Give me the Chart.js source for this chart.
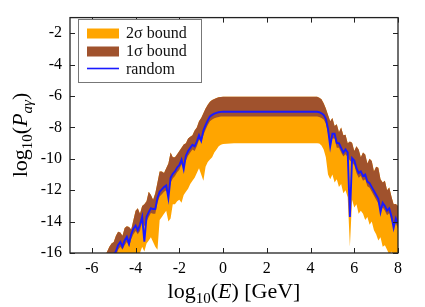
<!DOCTYPE html>
<html><head><meta charset="utf-8">
<script src="https://cdn.jsdelivr.net/npm/chart.js@4.4.1/dist/chart.umd.min.js"></script>
<style>html,body{margin:0;padding:0;background:#fff;}canvas{display:block;}</style>
</head><body>
<canvas id="c" width="425" height="307"></canvas>
<script>
// log10(E/GeV) sample positions
const logE = [
 -5.6,-5.5,-5.4,-5.3,-5.2,-5.1,-5.0,-4.9,-4.8,-4.7,-4.6,-4.5,-4.4,-4.3,-4.2,-4.1,-4.0,-3.9,-3.8,-3.7,
 -3.6,-3.5,-3.4,-3.3,-3.2,-3.1,-3.0,-2.9,-2.8,-2.7,-2.6,-2.5,-2.4,-2.3,-2.2,-2.1,-2.0,-1.9,-1.8,-1.7,
 -1.6,-1.5,-1.4,-1.3,-1.2,-1.1,-1.0,-0.9,-0.8,-0.7,-0.6,-0.5,-0.4,-0.3,-0.2,-0.1,0.0,
 0.5,1.0,1.5,2.0,2.5,3.0,3.5,4.0,4.1,4.2,4.3,
 4.4,4.5,4.6,4.7,4.8,4.9,5.0,5.1,5.2,5.3,5.4,5.5,5.6,5.7,5.8,5.9,6.0,6.1,6.2,6.3,6.4,6.5,6.6,6.7,
 6.8,6.9,7.0,7.1,7.2,7.3,7.4,7.5,7.6,7.7,7.8,7.9,8.0
];
// random realisation of log10(P_a gamma)
const randomCurve = [
 -17.3,-17.1,-16.9,-16.7,-16.5,-16.4,-16.1,-15.9,-15.5,-15.3,-15.6,-15.2,-14.97,-15.4,-14.8,-14.45,-14.25,-14.55,-14.2,-13.7,
 -15.28,-13.7,-13.4,-13.15,-13.2,-13.2,-12.5,-12.1,-11.95,-11.8,-11.7,-12.5,-11.2,-10.95,-10.8,-10.55,-10.4,-10.05,-10.65,-9.8,
 -9.5,-9.3,-9.1,-9.2,-8.9,-8.5,-8.85,-8.2,-7.85,-7.55,-7.3,-7.2,-7.12,-7.07,-7.03,-7.01,-7.0,
 -7.0,-7.0,-7.0,-7.0,-7.0,-7.0,-7.0,-7.0,-7.0,-7.0,-7.0,
 -7.03,-7.1,-7.2,-7.45,-8.1,-9.2,-8.4,-8.4,-9.0,-9.0,-9.3,-9.6,-9.4,-9.6,-13.7,-9.95,-10.1,-10.6,-10.9,-10.8,-11.1,-11.0,-11.45,-11.55,
 -11.8,-12.05,-12.3,-12.55,-13.4,-12.8,-13.0,-13.3,-13.15,-13.65,-14.4,-13.8,-14.15
];
// 1 sigma band
const sigma1Upper = [
 -16.9,-16.6,-16.2,-15.9,-15.6,-15.4,-15.3,-14.9,-14.65,-14.7,-14.9,-14.4,-14.3,-14.34,-14.5,-13.9,-13.3,-13.15,-13.5,-13.0,
 -12.9,-12.7,-12.1,-12.3,-12.6,-12.2,-11.5,-10.8,-10.8,-10.9,-10.6,-10.3,-9.6,-9.9,-9.9,-9.7,-9.5,-9.3,-9.08,-9.0,
 -8.7,-8.6,-8.5,-8.2,-8.0,-7.6,-7.4,-7.1,-6.8,-6.55,-6.36,-6.25,-6.18,-6.12,-6.08,-6.06,-6.05,
 -6.05,-6.05,-6.05,-6.05,-6.05,-6.05,-6.05,-6.05,-6.05,-6.05,-6.05,
 -6.1,-6.2,-6.45,-6.8,-7.2,-7.6,-7.4,-7.9,-7.8,-8.3,-8.0,-8.5,-8.46,-9.0,-8.9,-8.98,-9.5,-9.2,-9.4,-9.9,-9.6,-9.72,-10.3,-10.0,
 -10.14,-10.8,-10.5,-10.56,-11.3,-11.5,-11.4,-12.0,-11.82,-12.4,-12.9,-12.87,-13.0
];
const sigma1Lower = [
 -17.6,-17.4,-17.2,-17.0,-16.8,-16.7,-16.4,-16.2,-15.8,-15.6,-15.8,-15.5,-15.3,-15.6,-15.1,-14.8,-14.6,-14.8,-14.6,-14.0,
 -14.3,-14.0,-13.7,-13.45,-13.5,-13.5,-12.8,-12.4,-12.25,-12.1,-12.0,-12.3,-11.5,-11.25,-11.1,-10.85,-10.7,-10.35,-10.5,-10.1,
 -9.8,-9.6,-9.4,-9.5,-9.2,-8.8,-8.9,-8.5,-8.15,-7.85,-7.6,-7.5,-7.42,-7.37,-7.33,-7.31,-7.3,
 -7.3,-7.3,-7.3,-7.3,-7.3,-7.3,-7.3,-7.3,-7.3,-7.3,-7.3,
 -7.33,-7.4,-7.5,-7.75,-8.4,-9.0,-8.7,-8.7,-9.3,-9.3,-9.6,-9.85,-9.7,-9.9,-10.1,-10.25,-10.4,-10.9,-11.2,-11.1,-11.4,-11.3,-11.75,-11.85,
 -12.1,-12.35,-12.6,-12.85,-13.3,-13.1,-13.3,-13.6,-13.45,-13.95,-14.3,-14.1,-14.45
];
// 2 sigma band (upper edge coincides with the 1 sigma upper edge in the figure)
const sigma2Upper = sigma1Upper;
const sigma2Lower = [
 -19.0,-18.8,-18.6,-18.3,-18.1,-17.8,-17.6,-17.3,-16.6,-16.4,-16.6,-16.3,-16.2,-16.6,-16.3,-16.2,-16.1,-16.2,-16.0,-15.6,
 -15.9,-15.4,-15.2,-15.0,-15.3,-15.6,-15.8,-13.9,-13.7,-13.5,-13.3,-14.0,-13.8,-12.9,-12.9,-12.7,-12.6,-12.8,-12.3,-12.1,
 -11.9,-11.6,-11.4,-11.2,-10.9,-10.6,-11.0,-11.4,-10.5,-10.2,-10.05,-9.9,-9.6,-9.4,-9.2,-9.1,-9.05,
 -9.0,-9.0,-9.0,-9.0,-9.0,-9.0,-9.0,-9.0,-9.0,-9.0,-9.0,
 -9.02,-9.15,-9.4,-9.9,-11.0,-11.3,-11.0,-11.5,-11.3,-11.8,-11.6,-12.2,-12.0,-12.45,-15.6,-12.6,-13.1,-12.9,-13.5,-13.3,-13.5,-13.9,-13.7,-14.2,
 -14.0,-14.55,-14.8,-15.2,-15.0,-15.6,-15.5,-15.8,-16.1,-15.9,-16.3,-16.0,-16.4
];
const xTicks = [-6,-4,-2,0,2,4,6,8];
const yTicks = [-16,-14,-12,-10,-8,-6,-4,-2];
const legendLabels = ['2σ bound','1σ bound','random'];

const ORANGE = '#FFA500', BROWN = '#A0522D', BLUE = '#1a1aff';
const SERIF = "'Liberation Serif','DejaVu Serif',serif";
const pts = arr => logE.map((x,i)=>({x:x,y:arr[i]}));
const noLine = {borderWidth:0,borderColor:'rgba(0,0,0,0)',pointRadius:0};

const framePlugin = {
  id:'frame',
  afterDatasetsDraw(chart){
    const {ctx, chartArea:a, scales} = chart;
    ctx.save();
    ctx.strokeStyle = '#222'; ctx.lineWidth = 1.3;
    ctx.strokeRect(a.left, a.top, a.right-a.left, a.bottom-a.top);
    ctx.lineWidth = 1;
    ctx.beginPath();
    xTicks.forEach(v=>{ const p = Math.round(scales.x.getPixelForValue(v))+0.5;
      ctx.moveTo(p,a.bottom); ctx.lineTo(p,a.bottom-5);
      ctx.moveTo(p,a.top); ctx.lineTo(p,a.top+5); });
    yTicks.forEach(v=>{ const p = Math.round(scales.y.getPixelForValue(v))+0.5;
      ctx.moveTo(a.left,p); ctx.lineTo(a.left+5,p);
      ctx.moveTo(a.right,p); ctx.lineTo(a.right-5,p); });
    ctx.stroke();
    ctx.restore();
  },
  afterDraw(chart){
    const {ctx, chartArea:a} = chart;
    ctx.save();
    // legend
    ctx.fillStyle = '#fff'; ctx.fillRect(78.5,19.5,123,63);
    ctx.strokeStyle = '#777'; ctx.lineWidth = 1; ctx.strokeRect(78.5,19.5,123,63);
    ctx.fillStyle = ORANGE; ctx.fillRect(87,28.5,32,10);
    ctx.fillStyle = BROWN; ctx.fillRect(87,46.5,32,10);
    ctx.strokeStyle = BLUE; ctx.lineWidth = 1.6;
    ctx.beginPath(); ctx.moveTo(87,68.5); ctx.lineTo(119,68.5); ctx.stroke();
    ctx.fillStyle = '#111'; ctx.font = '16px '+SERIF; ctx.textBaseline='alphabetic'; ctx.textAlign='left';
    ctx.fillText(legendLabels[0],126,38);
    ctx.fillText(legendLabels[1],126,56);
    ctx.fillText(legendLabels[2],126,73.5);
    // axis titles with subscripts
    const drawParts = (parts, cx, cy) => {
      let w = 0;
      parts.forEach(p=>{ ctx.font = p.f; w += ctx.measureText(p.t).width; });
      let x = cx - w/2;
      parts.forEach(p=>{ ctx.font = p.f; ctx.fillText(p.t, x, cy + (p.dy||0)); x += ctx.measureText(p.t).width; });
    };
    const R = '22px '+SERIF, I = 'italic 22px '+SERIF, S = '15px '+SERIF, SI = 'italic 15px '+SERIF;
    ctx.fillStyle = '#000';
    drawParts([{t:'log',f:R},{t:'10',f:S,dy:5},{t:'(',f:R},{t:'E',f:I},{t:') [GeV]',f:R}], (a.left+a.right)/2, 298);
    ctx.translate(27,135); ctx.rotate(-Math.PI/2);
    drawParts([{t:'log',f:R},{t:'10',f:S,dy:5},{t:'(',f:R},{t:'P',f:I},{t:'aγ',f:SI,dy:5},{t:')',f:R}], 0, 0);
    ctx.restore();
  }
};

new Chart(document.getElementById('c'), {
  type:'line',
  data:{datasets:[
    {label:legendLabels[2], data:pts(randomCurve), borderColor:BLUE, borderWidth:1.9, pointRadius:0, fill:false},
    {label:legendLabels[1], data:pts(sigma1Upper), ...noLine, backgroundColor:BROWN, fill:{target:2}},
    {label:'1σ lower', data:pts(sigma1Lower), ...noLine, fill:false},
    {label:legendLabels[0], data:pts(sigma2Upper), ...noLine, backgroundColor:ORANGE, fill:{target:4}},
    {label:'2σ lower', data:pts(sigma2Lower), ...noLine, fill:false}
  ]},
  options:{
    responsive:false, animation:false, devicePixelRatio:1,
    layout:{padding:{left:0,top:15,right:27,bottom:0}},
    plugins:{legend:{display:false}, tooltip:{enabled:false}},
    elements:{line:{tension:0}},
    scales:{
      x:{type:'linear', min:-7, max:8,
        afterBuildTicks:s=>{ s.ticks = xTicks.map(v=>({value:v})); },
        afterFit:s=>{ s.height = 54; },
        grid:{display:false, drawTicks:false}, border:{display:false},
        ticks:{padding:6, color:'#000', font:{family:SERIF,size:16}, maxRotation:0, autoSkip:false}},
      y:{type:'linear', min:-16, max:-1,
        afterBuildTicks:s=>{ s.ticks = yTicks.map(v=>({value:v})); },
        afterFit:s=>{ s.width = 70; },
        grid:{display:false, drawTicks:false}, border:{display:false},
        ticks:{padding:8, color:'#000', font:{family:SERIF,size:16}, autoSkip:false}}
    }
  },
  plugins:[framePlugin]
});
</script>
</body></html>
